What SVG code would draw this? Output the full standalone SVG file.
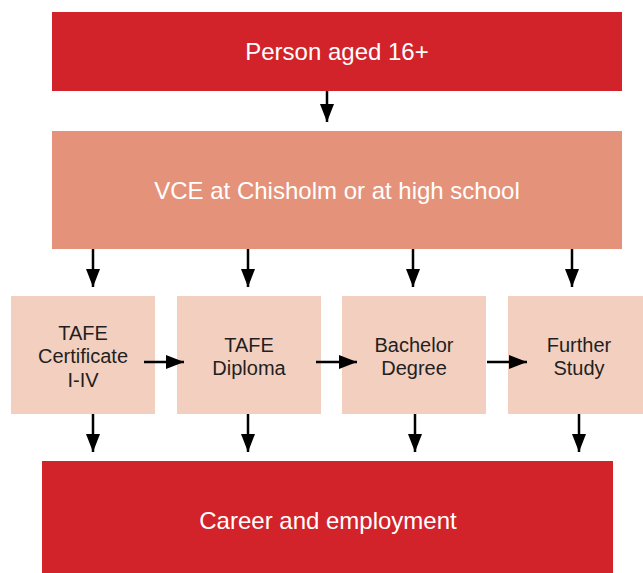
<svg xmlns="http://www.w3.org/2000/svg" width="643" height="573" viewBox="0 0 643 573">
<style>
.red{fill:#D2232A}
.vce{fill:#E4937A}
.mid{fill:#F3CFC0}
.wt{font-family:"Liberation Sans",Arial,sans-serif;font-size:24px;fill:#ffffff;text-anchor:middle}
.dt{font-family:"Liberation Sans",Arial,sans-serif;font-size:20px;fill:#231F20;text-anchor:middle}
.conn line{stroke:#000;stroke-width:2.5;marker-end:url(#ah)}
</style>
<defs>
<marker id="ah" markerUnits="userSpaceOnUse" markerWidth="18" markerHeight="14" refX="18" refY="7" orient="auto" viewBox="0 0 18 14">
<path d="M0,0 L18,7 L0,14 Z" fill="#000"/>
</marker>
</defs>
<rect width="643" height="573" fill="#fff"/>
<g id="person">
<rect class="red" x="52" y="12" width="570" height="79"/>
<text class="wt" x="337" y="60">Person aged 16+</text>
</g>
<g id="vce">
<rect class="vce" x="52" y="131" width="570" height="118"/>
<text class="wt" x="337" y="199">VCE at Chisholm or at high school</text>
</g>
<g id="cert">
<rect class="mid" x="11" y="296" width="144" height="118"/>
<text class="dt" x="83" y="340">TAFE</text>
<text class="dt" x="83" y="363">Certificate</text>
<text class="dt" x="83" y="387">I-IV</text>
</g>
<g id="diploma">
<rect class="mid" x="177" y="296" width="144" height="118"/>
<text class="dt" x="249" y="352">TAFE</text>
<text class="dt" x="249" y="375">Diploma</text>
</g>
<g id="bachelor">
<rect class="mid" x="342" y="296" width="144" height="118"/>
<text class="dt" x="414" y="352">Bachelor</text>
<text class="dt" x="414" y="375">Degree</text>
</g>
<g id="further">
<rect class="mid" x="508" y="296" width="135" height="118"/>
<text class="dt" x="579" y="352">Further</text>
<text class="dt" x="579" y="375">Study</text>
</g>
<g id="career">
<rect class="red" x="42" y="461" width="571" height="112"/>
<text class="wt" x="328" y="529">Career and employment</text>
</g>
<g class="conn" id="connectors">
<line x1="327" y1="91" x2="327" y2="122"/>
<line x1="93" y1="249" x2="93" y2="287"/>
<line x1="248" y1="249" x2="248" y2="287"/>
<line x1="413" y1="249" x2="413" y2="287"/>
<line x1="572" y1="249" x2="572" y2="287"/>
<line x1="144" y1="362" x2="184" y2="362"/>
<line x1="316" y1="362" x2="357" y2="362"/>
<line x1="487" y1="362" x2="527" y2="362"/>
<line x1="93" y1="414" x2="93" y2="452"/>
<line x1="248" y1="414" x2="248" y2="452"/>
<line x1="415" y1="414" x2="415" y2="452"/>
<line x1="579" y1="414" x2="579" y2="452"/>
</g>
</svg>
